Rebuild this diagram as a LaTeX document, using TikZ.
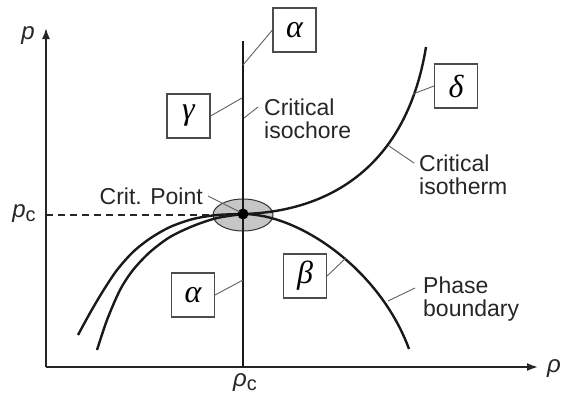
\documentclass[tikz,border=0pt]{standalone}
\usepackage{fontspec}
\setmainfont{Liberation Sans}
\newfontfamily\grkfont{Liberation Serif}
\usetikzlibrary{arrows.meta,shapes.geometric}
\begin{document}
\begin{tikzpicture}[x=1pt,y=-1pt,
  curve/.style={line width=2.4pt, black!90},
  lead/.style={line width=0.9pt, gray!75!black},
  gbox/.style={draw=gray!60!black, line width=1.1pt, minimum width=43pt, minimum height=44pt, inner sep=0pt, font=\grkfont\itshape\fontsize{32}{32}\selectfont},
  lbl/.style={inner sep=0pt, align=left, font=\fontsize{23}{23.5}\selectfont, text=black!85},
  axl/.style={inner sep=0pt, font=\fontsize{24}{24}\selectfont, text=black!85},
  ax/.style={line width=1.8pt, black!85, -{Latex[length=11pt,width=8pt]}}
]
\useasboundingbox (0,0) rectangle (569,394);
% axes
\coordinate (O) at (46,367);
\coordinate (ytop) at (46,28);
\coordinate (xend) at (538,367);
\draw[ax] (O) -- (ytop);
\draw[ax] (O) -- (xend);
\node[axl] (plab) at (28,36) {\itshape p};
\node[axl] (rholab) at (554,369) {\itshape ρ};
\node[axl] (pclab) at (24,214) {\itshape p\raisebox{-4pt}{\upshape\fontsize{20}{20}\selectfont c}};
\node[axl] (rhoclab) at (245,383) {\itshape ρ\raisebox{-4pt}{\upshape\fontsize{20}{20}\selectfont c}};
% critical region
\node[ellipse, draw=black!80, line width=1pt, fill=gray!45, minimum width=60pt, minimum height=32pt, inner sep=0pt] (cp) at (243,215) {};
\coordinate (pcaxis) at (46,215);
\draw[line width=1.2pt, black!85, dash pattern=on 7pt off 5pt] (pcaxis) -- (cp.west);
% isochore
\coordinate (isotop) at (243,41);
\coordinate (isobot) at (243,367);
\draw[curve, line width=2.2pt] (isotop) -- (isobot);
% critical isotherm
\coordinate (cpt) at (243,214);
\draw[curve] plot[smooth, tension=0.5] coordinates {(78,335) (90,313) (103,291) (117,270) (133,252) (150,238.5) (170,227) (193,219) (217,215) (243,214)};
\draw[curve] (cpt) .. controls (320,212) and (405,175) .. (426,47);
% phase boundary
\draw[curve] plot[smooth, tension=0.5] coordinates {(97,350) (107,320) (120,290) (133,270) (150,252) (170,237) (193,226) (217,218) (243,214)};
\draw[curve] (cpt) .. controls (300,214) and (380,270) .. (409,349);
\node[circle, fill=black, inner sep=0pt, minimum size=11pt] (cdot) at (cpt) {};
% boxes
\node[gbox] (atop) at (294.5,30) {α};
\node[gbox] (gam) at (188.5,116) {γ};
\node[gbox] (del) at (456,86) {δ};
\node[gbox] (bet) at (305,276) {β};
\node[gbox] (abot) at (193,295) {α};
% text labels
\node[lbl, anchor=west] (isoch) at (264,119) {Critical\\isochore};
\node[lbl, anchor=west] (isoth) at (419,175) {Critical\\isotherm};
\node[lbl, anchor=west] (phb) at (423,299) {Phase\\boundary};
\node[lbl, anchor=east] (critp) at (203,196) {Crit. Point};
% leader endpoints
\coordinate (a1) at (243,65);
\coordinate (g1) at (242,98);
\coordinate (ic1) at (244,118);
\coordinate (ic2) at (258,107);
\coordinate (d1) at (413,94);
\coordinate (it1) at (389,146);
\coordinate (it2) at (414,163);
\coordinate (b1) at (346,258);
\coordinate (pb1) at (388,301);
\coordinate (pb2) at (415,288);
\coordinate (ab1) at (243,280);
\coordinate (cp1) at (208,196);
\coordinate (cp2) at (240,212);
\draw[lead] (atop.west) -- (a1);
\draw[lead] (gam.east) -- (g1);
\draw[lead] (ic1) -- (ic2);
\draw[lead] (del.west) -- (d1);
\draw[lead] (it1) -- (it2);
\draw[lead] (bet.east) -- (b1);
\draw[lead] (pb1) -- (pb2);
\draw[lead] (abot.east) -- (ab1);
\draw[lead] (cp1) -- (cp2);
\end{tikzpicture}
\end{document}
